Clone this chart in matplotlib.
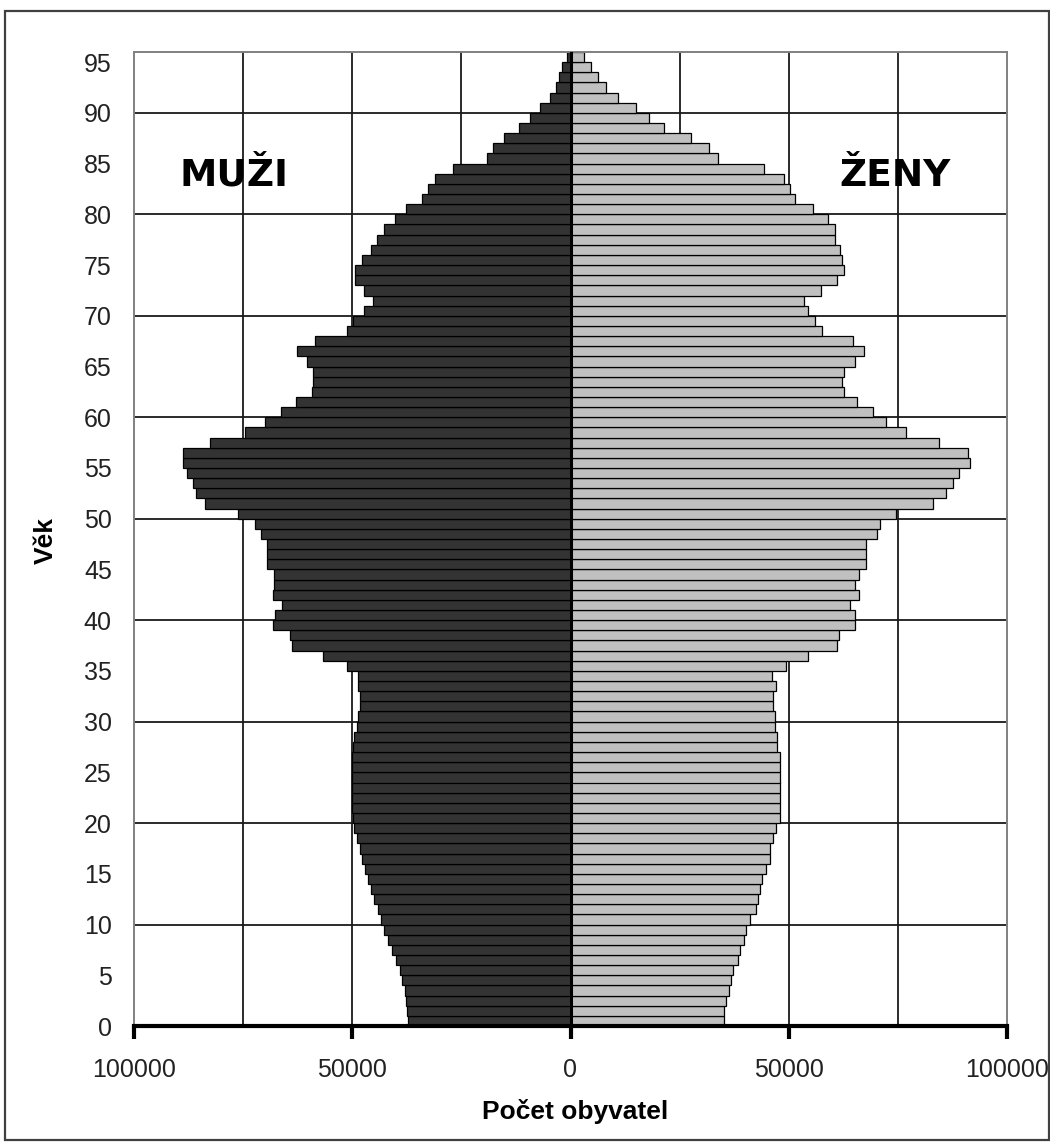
import matplotlib
matplotlib.use("Agg")
import matplotlib.pyplot as plt
from matplotlib.patches import Rectangle
from matplotlib.ticker import FuncFormatter

# ---- data (thousands of people by age) ----
ages = list(range(96))
male_k = [37.2, 37.4, 37.6, 38.0, 38.6, 39.1, 39.9, 40.9, 41.9, 42.8,
          43.5, 44.1, 45.0, 45.8, 46.4, 47.1, 47.7, 48.3, 48.9, 49.5,
          49.8, 50.0, 50.0, 50.0, 50.0, 50.0, 50.0, 49.8, 49.6, 49.0,
          48.6, 48.3, 48.3, 48.6, 48.6, 51.2, 56.7, 63.9, 64.3, 68.1,
          67.6, 66.1, 68.1, 68.0, 68.0, 69.5, 69.5, 69.5, 71.0, 72.2,
          76.2, 83.8, 85.9, 86.5, 87.8, 88.8, 88.8, 82.7, 74.6, 70.0,
          66.4, 62.8, 59.3, 58.9, 58.9, 60.4, 62.6, 58.6, 51.3, 49.8,
          47.3, 45.3, 47.3, 49.3, 49.3, 47.7, 45.8, 44.3, 42.8, 40.2,
          37.6, 34.1, 32.6, 31.1, 26.9, 19.2, 17.8, 15.3, 11.8, 9.2,
          7.0, 4.7, 3.4, 2.7, 1.9, 0.8]
female_k = [35.1, 35.1, 35.7, 36.3, 36.8, 37.3, 38.3, 38.8, 39.7, 40.3,
            41.2, 42.4, 42.9, 43.5, 43.9, 44.9, 45.6, 45.8, 46.4, 47.0,
            48.1, 47.9, 47.9, 48.0, 48.0, 48.0, 48.0, 47.3, 47.3, 46.8,
            46.8, 46.4, 46.4, 47.0, 46.2, 49.3, 54.5, 61.1, 61.6, 65.1,
            65.1, 64.1, 66.2, 65.1, 66.2, 67.6, 67.6, 67.6, 70.3, 70.8,
            74.6, 83.0, 86.1, 87.6, 89.0, 91.6, 91.0, 84.5, 76.9, 72.2,
            69.3, 65.7, 62.6, 62.1, 62.6, 65.1, 67.2, 64.8, 57.7, 56.0,
            54.5, 53.5, 57.5, 61.1, 62.6, 62.1, 61.7, 60.5, 60.6, 59.0,
            55.6, 51.4, 50.2, 49.0, 44.4, 33.7, 31.7, 27.6, 21.5, 18.0,
            15.0, 10.8, 8.2, 6.3, 4.7, 3.1]
male = [v * 1000 for v in male_k]
female = [v * 1000 for v in female_k]
y_ticks = list(range(0, 96, 5))
x_ticks = [-100000, -50000, 0, 50000, 100000]
label_m = "MUŽI"
label_f = "ŽENY"
x_title = "Počet obyvatel"
y_title = "Věk"

W, H = 1050, 1143
plt.rcParams['font.family'] = ['Liberation Sans', 'DejaVu Sans']
fig = plt.figure(figsize=(W / 100, H / 100), dpi=100)
fig.patch.set_facecolor('white')

def fx(px):
    return px / W

def fy(py):
    return 1 - py / H

# outer border
fig.patches.append(Rectangle((fx(5), fy(1140)), fx(1049) - fx(5), fy(11) - fy(1140),
                             transform=fig.transFigure, fill=False,
                             edgecolor='#404040', linewidth=1.6))

ax = fig.add_axes([fx(134), fy(1026), fx(1007) - fx(134), fy(52) - fy(1026)])
ax.set_xlim(-100000, 100000)
ax.set_ylim(0, 96)

# grid
for gx in range(-75000, 100000, 25000):
    ax.axvline(gx, color='#1a1a1a', lw=1.3, zorder=1)
for gy in range(10, 96, 10):
    ax.axhline(gy, color='#1a1a1a', lw=1.3, zorder=1)

ax.barh(ages, [-v for v in male], height=1.0, align='edge', color='#333333',
        edgecolor='black', linewidth=0.9, zorder=2)
ax.barh(ages, female, height=1.0, align='edge', color='#c0c0c0',
        edgecolor='black', linewidth=0.9, zorder=2)
ax.axvline(0, color='black', lw=2.2, zorder=3)

for s in ['left', 'top', 'right']:
    ax.spines[s].set_color('#808080')
    ax.spines[s].set_linewidth(1.4)
ax.spines['bottom'].set_color('black')
ax.spines['bottom'].set_linewidth(3)

ax.set_xticks(x_ticks)
ax.xaxis.set_major_formatter(FuncFormatter(lambda v, p: f"{abs(int(v))}"))
ax.tick_params(axis='x', direction='out', length=9, width=3, color='black',
               labelsize=18, labelcolor='#222222', pad=14)
ax.set_yticks(y_ticks)
ax.tick_params(axis='y', length=0, labelsize=18, labelcolor='#222222', pad=16)

fig.text(fx(234), fy(186), label_m, ha='center', va='baseline',
         fontsize=27, fontweight='bold', family=['DejaVu Sans'])
fig.text(fx(895), fy(186), label_f, ha='center', va='baseline',
         fontsize=27, fontweight='bold', family=['DejaVu Sans'])
fig.text(fx(575), fy(1112), x_title, ha='center', va='center',
         fontsize=19, fontweight='bold')
fig.text(fx(46), fy(540), y_title, ha='center', va='center', rotation=90,
         fontsize=19, fontweight='bold')

fig.savefig('out.png', dpi=100, facecolor='white')
